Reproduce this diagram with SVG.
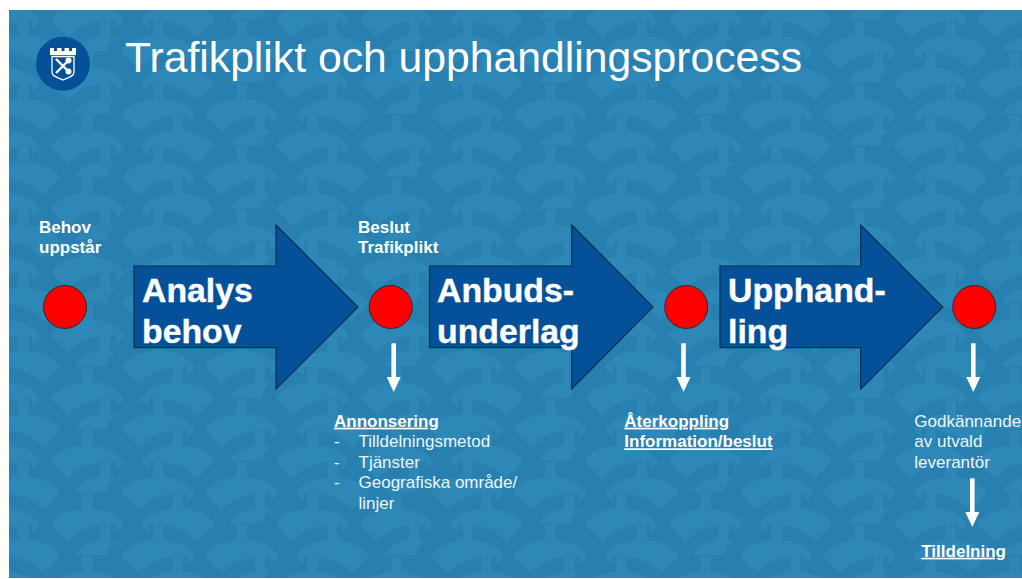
<svg xmlns="http://www.w3.org/2000/svg" xmlns:xlink="http://www.w3.org/1999/xlink" width="1022" height="579" viewBox="0 0 1022 579">
<style>
text{font-family:"Liberation Sans",Arial,sans-serif;fill:#fff}
.title{font-size:42.700px}
.big{font-size:33.800px;font-weight:700;stroke:#fff;stroke-width:.4}
.lab{font-size:17px;font-weight:700}
.reg{font-size:17px;fill:#eef6fa}
.u{text-decoration:underline}
.arrow{fill:#04519a;stroke:#0d2f4f;stroke-width:1.2}
.dot{fill:#f00;stroke:#2b2b2b;stroke-width:1}
.conn{stroke:#fff;stroke-width:4.6;fill:none;marker-end:url(#head)}
.lt{fill:#2d87b7}
</style>
<defs>
<marker id="head" markerUnits="userSpaceOnUse" markerWidth="16" markerHeight="16" refX="0" refY="8" orient="auto"><path d="M0 1 L15 8 L0 15 Z" fill="#fff"/></marker>
<path id="dm" d="M0 16C5 6 20 0 36.5 0C53 0 68 6 73 17L65 24L65 16L56 16C38 17 26 23 17 33Z"/>
<path id="cut" d="M0 15C5 6 15 0 30 0L41 0C35 5 32 10 32 15Z"/>
<g id="tile" class="lt">
<use xlink:href="#cut" x="25" y="0"/><rect x="50" y="-15" width="10" height="16"/>
<use xlink:href="#dm" x="72" y="0"/><rect x="103.500" y="-15" width="10" height="16"/>
<use xlink:href="#dm" x="155" y="0"/><rect x="186.500" y="-15" width="10" height="16"/>
<use xlink:href="#dm" transform="translate(319,0) scale(-1,1)"/><rect x="277.500" y="-15" width="10" height="16"/>
<use xlink:href="#dm" x="1" y="31.500"/><rect x="32.500" y="16.500" width="10" height="16"/>
<use xlink:href="#dm" transform="translate(164,31.500) scale(-1,1)"/><rect x="122.500" y="16.500" width="10" height="16"/>
<use xlink:href="#cut" x="180" y="31.500"/><rect x="205" y="16.500" width="10" height="16"/>
<use xlink:href="#dm" x="226" y="31.500"/><rect x="257.500" y="16.500" width="10" height="16"/>
</g>
<pattern id="bgp" patternUnits="userSpaceOnUse" x="50" y="99" width="309" height="63">
<use xlink:href="#tile"/><use xlink:href="#tile" y="63"/><use xlink:href="#tile" y="-63"/>
<use xlink:href="#tile" x="-309"/><use xlink:href="#tile" x="-309" y="63"/><use xlink:href="#tile" x="-309" y="-63"/>
</pattern>
</defs>
<rect width="1022" height="579" fill="#fff"/>
<rect x="9" y="10" width="1013" height="568" fill="#2880b0"/>
<rect x="9" y="10" width="1013" height="568" fill="url(#bgp)"/>

<g id="logo">
<circle cx="63" cy="63.700" r="27" fill="#04519a"/>
<path d="M50 48h4v3h3v-3h4.500v3h3v-3h4.500v3h3v-3h4v7H50Z" fill="#fff"/>
<path d="M52 56.500H74V72C74 76 69 77.500 63 80C57 77.500 52 76 52 72Z" fill="#04519a" stroke="#fff" stroke-width="1.300"/>
<path d="M56 59L70 73M70 59L56 73" stroke="#fff" stroke-width="2.400"/>
<circle cx="68.500" cy="60.500" r="3" fill="#fff"/><circle cx="68.500" cy="71.500" r="3" fill="#fff"/>
</g>
<g id="title"><text class="title" x="125" y="72">Trafikplikt och upphandlingsprocess</text></g>

<g id="connectors">
<line class="conn" x1="393.700" y1="343.300" x2="393.700" y2="377"/>
<line class="conn" x1="683.500" y1="343.300" x2="683.500" y2="377"/>
<line class="conn" x1="973.300" y1="343.300" x2="973.300" y2="377"/>
<line class="conn" x1="972.300" y1="478.300" x2="972.300" y2="512"/>
</g>

<g id="node-behov">
<circle class="dot" cx="65" cy="307" r="21.500"/>
<text class="lab" x="39" y="233">Behov</text><text class="lab" x="39" y="253">uppstår</text>
</g>
<g id="node-analys">
<path class="arrow" d="M134 266H276V225L358 307L276 389V347.700H134Z"/>
<text class="big" x="142" y="301.700">Analys</text><text class="big" x="142" y="342.700">behov</text>
</g>
<g id="node-beslut">
<circle class="dot" cx="390.700" cy="307" r="21.500"/>
<text class="lab" x="358" y="233">Beslut</text><text class="lab" x="358" y="253">Trafikplikt</text>
</g>
<g id="node-anbud">
<path class="arrow" d="M429.500 266H571.700V225L653 307L571.700 389V347.700H429.500Z"/>
<text class="big" x="437" y="301.700">Anbuds-</text><text class="big" x="437" y="342.700">underlag</text>
</g>
<g id="node-aterkoppling-dot">
<circle class="dot" cx="686.300" cy="307" r="21.500"/>
</g>
<g id="node-upphandling">
<path class="arrow" d="M720 266H860.700V225L942.700 307L860.700 389V347.700H720Z"/>
<text class="big" x="728" y="301.700">Upphand-</text><text class="big" x="728" y="342.700">ling</text>
</g>
<g id="node-godkannande-dot">
<circle class="dot" cx="974.300" cy="307" r="21.500"/>
</g>
<g id="node-annonsering">
<text class="lab u" x="334" y="426.700">Annonsering</text>
<text class="reg" x="334" y="446.700">-</text><text class="reg" x="358.500" y="446.700">Tilldelningsmetod</text>
<text class="reg" x="334" y="467.700">-</text><text class="reg" x="358.500" y="467.700">Tjänster</text>
<text class="reg" x="334" y="488.300">-</text><text class="reg" x="358.500" y="488.300">Geografiska område/</text>
<text class="reg" x="358.500" y="509">linjer</text>
</g>
<g id="node-aterkoppling">
<text class="lab u" x="624.300" y="426.700">Återkoppling</text>
<text class="lab u" x="624.300" y="447.300">Information/beslut</text>
</g>
<g id="node-godkannande">
<text class="reg" x="914.300" y="427.300">Godkännande</text>
<text class="reg" x="914.300" y="447.300">av utvald</text>
<text class="reg" x="914.300" y="468">leverantör</text>
</g>
<g id="node-tilldelning">
<text class="lab u" x="921.300" y="556.700">Tilldelning</text>
</g>
</svg>
